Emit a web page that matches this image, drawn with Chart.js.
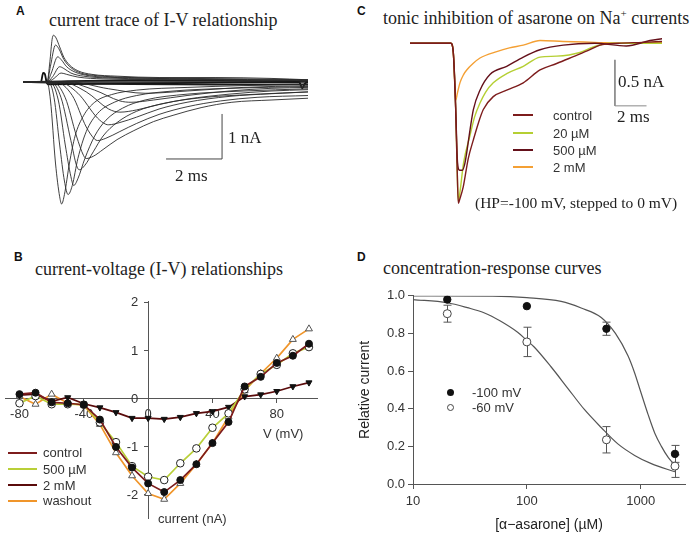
<!DOCTYPE html>
<html>
<head>
<meta charset="utf-8">
<script src="https://cdn.jsdelivr.net/npm/chart.js@4.4.1/dist/chart.umd.min.js"></script>
<style>
  body { margin: 0; background: #fff; }
  #page { position: relative; width: 693px; height: 539px; overflow: hidden;
          font-family: 'Liberation Sans', Arial, sans-serif; color: #333; }
  canvas { position: absolute; }
  .t { position: absolute; white-space: nowrap; line-height: 1; }
  .serif { font-family: 'Liberation Serif', 'Times New Roman', serif; color: #222; }
  .letter { font-weight: bold; font-size: 12px; color: #111; }
  .leg { font-size: 13px; }
  .sw { position: absolute; height: 0; border-top: 2px solid; }
  .dot { position: absolute; width: 7px; height: 7px; border-radius: 50%; box-sizing: border-box; }
</style>
</head>
<body>
<div id="page">
  <canvas id="chartA" width="285" height="180" style="left:23px;top:30px"></canvas>
  <canvas id="chartB" width="330" height="245" style="left:0px;top:285px"></canvas>
  <canvas id="chartC" width="252" height="175" style="left:410px;top:35px"></canvas>
  <canvas id="chartD" width="343" height="254" style="left:350px;top:285px"></canvas>

  <div class="t letter" style="left:16px;top:5px">A</div>
  <div class="t serif" style="left:49px;top:10.5px;font-size:18px">current trace of I-V relationship</div>
  <div class="t serif" style="left:228px;top:128.5px;font-size:17px">1 nA</div>
  <div class="t serif" style="left:175px;top:166.5px;font-size:17px">2 ms</div>

  <div class="t letter" style="left:14px;top:251px">B</div>
  <div class="t serif" style="left:35px;top:260px;font-size:18px">current-voltage (I-V) relationships</div>
  <div class="t leg" style="left:263px;top:426.5px">V (mV)</div>
  <div class="t leg" style="left:158px;top:511.5px">current (nA)</div>
  <div class="sw" style="left:8px;top:451.7px;width:29px;border-color:#7d1c1c"></div>
  <div class="t leg" style="left:43px;top:446.3px">control</div>
  <div class="sw" style="left:8px;top:468.3px;width:29px;border-color:#b9cf38"></div>
  <div class="t leg" style="left:43px;top:462.9px">500 &micro;M</div>
  <div class="sw" style="left:8px;top:484px;width:29px;border-color:#5a0b0b"></div>
  <div class="t leg" style="left:43px;top:478.6px">2 mM</div>
  <div class="sw" style="left:8px;top:499.7px;width:29px;border-color:#f0952a"></div>
  <div class="t leg" style="left:43px;top:494.3px">washout</div>

  <div class="t letter" style="left:357px;top:5px">C</div>
  <div class="t serif" style="left:383px;top:7.6px;font-size:18px">tonic inhibition of asarone on Na<sup style="font-size:11px;vertical-align:7px">+</sup> currents</div>
  <div class="t serif" style="left:618px;top:73px;font-size:17px">0.5 nA</div>
  <div class="t serif" style="left:617px;top:108px;font-size:17px">2 ms</div>
  <div class="t serif" style="left:475px;top:195px;font-size:15.5px">(HP=-100 mV, stepped to 0 mV)</div>
  <div class="sw" style="left:513px;top:114px;width:20px;border-color:#7d1c1c"></div>
  <div class="t leg" style="left:553px;top:108.6px">control</div>
  <div class="sw" style="left:513px;top:132px;width:20px;border-color:#b5cf33"></div>
  <div class="t leg" style="left:553px;top:126.6px">20 &micro;M</div>
  <div class="sw" style="left:513px;top:149px;width:20px;border-color:#64101a"></div>
  <div class="t leg" style="left:553px;top:143.6px">500 &micro;M</div>
  <div class="sw" style="left:513px;top:166px;width:20px;border-color:#f4a034"></div>
  <div class="t leg" style="left:553px;top:160.6px">2 mM</div>

  <div class="t letter" style="left:357px;top:251px">D</div>
  <div class="t serif" style="left:383px;top:259px;font-size:18px">concentration-response curves</div>
  <div class="dot" style="left:446.5px;top:388.5px;background:#111"></div>
  <div class="t leg" style="left:472px;top:385.6px">-100 mV</div>
  <div class="dot" style="left:446.5px;top:403.5px;border:1px solid #444;background:#fff"></div>
  <div class="t leg" style="left:472px;top:400.6px">-60 mV</div>
</div>

<script>
'use strict';

// ---------- A: current traces of the I-V protocol  [time (ms), current (nA)]
const inwardTraces = [
  [[-0.86, 0], [0, 0], [0.12, -0.4], [0.3, -1.8], [0.45, -2.55], [0.52, -2.71], [0.62, -2.5], [0.8, -1.8], [1.0, -1.2], [1.3, -0.75], [1.7, -0.45], [2.3, -0.28], [3.2, -0.18], [5, -0.12], [7, -0.08], [9.32, -0.05]],
  [[-0.86, 0], [0.05, 0], [0.25, -0.35], [0.45, -1.4], [0.62, -2.2], [0.75, -2.5], [0.9, -2.3], [1.1, -1.7], [1.4, -1.1], [1.8, -0.7], [2.4, -0.45], [3.2, -0.3], [4.5, -0.2], [6.5, -0.14], [9.32, -0.1]],
  [[-0.86, 0], [0.1, 0], [0.4, -0.4], [0.65, -1.4], [0.85, -2.1], [0.95, -2.3], [1.1, -2.15], [1.35, -1.7], [1.7, -1.2], [2.1, -0.85], [2.7, -0.58], [3.5, -0.4], [5, -0.27], [7, -0.2], [9.32, -0.15]],
  [[-0.86, 0], [0.15, 0], [0.5, -0.35], [0.85, -1.3], [1.05, -1.85], [1.15, -1.95], [1.35, -1.85], [1.65, -1.55], [2.0, -1.2], [2.5, -0.9], [3.2, -0.65], [4.2, -0.47], [5.5, -0.35], [7.5, -0.27], [9.32, -0.22]],
  [[-0.86, 0], [0.2, 0], [0.65, -0.35], [1.05, -1.2], [1.3, -1.63], [1.4, -1.7], [1.65, -1.65], [2.0, -1.5], [2.5, -1.28], [3.1, -1.08], [3.8, -0.88], [4.5, -0.74], [5.5, -0.57], [6.6, -0.45], [8, -0.4], [9.32, -0.36]],
  [[-0.86, 0], [0.3, 0], [0.9, -0.3], [1.4, -1.0], [1.7, -1.27], [1.8, -1.3], [2.1, -1.25], [2.6, -1.1], [3.2, -0.92], [4, -0.72], [5, -0.55], [6.2, -0.42], [7.5, -0.34], [9.32, -0.3]],
  [[-0.86, 0], [0.4, 0], [1.1, -0.25], [1.8, -0.8], [2.1, -0.94], [2.2, -0.95], [2.6, -0.9], [3.2, -0.78], [4, -0.6], [5, -0.45], [6.5, -0.32], [8, -0.26], [9.32, -0.22]],
  [[-0.86, 0], [0.5, 0], [1.4, -0.22], [2.2, -0.6], [2.6, -0.67], [3.2, -0.62], [4, -0.5], [5, -0.38], [6.5, -0.27], [8, -0.2], [9.32, -0.17]],
  [[-0.86, 0], [0.6, 0], [1.7, -0.18], [2.6, -0.42], [3.0, -0.45], [3.8, -0.4], [5, -0.3], [6.5, -0.2], [8, -0.14], [9.32, -0.12]],
  [[-0.86, 0], [0.8, 0], [2.2, -0.15], [3.5, -0.25], [5, -0.2], [7, -0.12], [9.32, -0.08]]
];
const outwardTraces = [
  [[-0.86, 0], [0, 0], [0.1, 0.45], [0.18, 0.95], [0.23, 1.04], [0.32, 0.98], [0.45, 0.78], [0.6, 0.55], [0.8, 0.38], [1.1, 0.25], [1.6, 0.17], [2.5, 0.13], [4, 0.1], [6, 0.1], [8, 0.08], [9.32, 0.05]],
  [[-0.86, 0], [0, 0], [0.12, 0.35], [0.3, 0.82], [0.42, 0.74], [0.6, 0.5], [0.85, 0.32], [1.2, 0.2], [1.8, 0.14], [3, 0.1], [5, 0.08], [7, 0.07], [9.32, 0.05]],
  [[-0.86, 0], [0, 0], [0.15, 0.2], [0.38, 0.56], [0.5, 0.5], [0.7, 0.34], [1.0, 0.22], [1.5, 0.14], [2.5, 0.1], [5, 0.07], [9.32, 0.04]],
  [[-0.86, 0], [0, 0], [0.2, 0.12], [0.45, 0.34], [0.6, 0.3], [0.85, 0.2], [1.3, 0.13], [2.2, 0.09], [5, 0.06], [9.32, 0.04]],
  [[-0.86, 0], [0, 0], [0.25, 0.08], [0.5, 0.2], [0.7, 0.17], [1.1, 0.11], [2, 0.07], [5, 0.05], [9.32, 0.03]]
];
const flatTraces = [
  [[-0.86, 0], [0.5, 0.02], [3, 0.04], [6, 0.03], [9.32, 0.02]],
  [[-0.86, 0], [0.8, -0.03], [3, -0.05], [6, -0.06], [9.32, -0.05]],
  [[-0.86, 0], [9.32, 0]]
];
const artifactTrace = [[-0.86, 0], [-0.22, 0], [-0.14, 0.2], [-0.08, 0.18], [-0.02, 0], [0.02, -0.05], [9.0, 0], [9.12, -0.14], [9.2, -0.04], [9.32, 0]];
const scaleBarA = [[4.25, -1.71], [6.25, -1.71], [6.25, -0.71]];   // 2 ms, 1 nA

// ---------- B: current-voltage relationships
const voltages  = [-80, -70, -60, -50, -40, -30, -20, -10, 0, 10, 20, 30, 40, 50, 60, 70, 80, 90, 100];
const ivControl = [0.1, 0.13, -0.07, -0.09, -0.12, -0.43, -1.0, -1.43, -1.76, -1.94, -1.69, -1.36, -0.92, -0.48, 0.26, 0.46, 0.75, 0.9, 1.15];
const iv500uM   = [-0.09, 0.06, -0.11, -0.11, -0.12, -0.49, -0.9, -1.4, -1.62, -1.69, -1.34, -1.03, -0.6, -0.3, 0.2, 0.52, 0.71, 0.95, 1.08];
const iv2mM     = [0.08, 0.1, -0.05, 0.03, -0.1, -0.18, -0.28, -0.4, -0.4, -0.42, -0.38, -0.3, -0.26, -0.17, 0.05, 0.09, 0.16, 0.26, 0.34];
const ivWashout = [0.05, -0.11, 0.1, -0.09, -0.13, -0.53, -1.12, -1.6, -1.97, -2.09, -1.76, -1.36, -0.92, -0.37, 0.17, 0.53, 0.85, 1.24, 1.46];
const vTicks = [-80, -40, 0, 40, 80];
const iTicks = [-2, -1, 0, 1, 2];

// ---------- C: tonic inhibition traces  [time (ms), current (nA)]
const tonicControl = [[-2.7, 0], [-0.1, 0], [0.05, -0.1], [0.2, -0.7], [0.3, -1.4], [0.37, -1.74], [0.45, -1.7], [0.68, -1.56], [1.0, -1.25], [1.32, -1.05], [1.65, -0.86], [1.95, -0.72], [2.58, -0.58], [3.43, -0.51], [4.48, -0.43], [5.54, -0.29], [6.59, -0.22], [7.65, -0.145], [8.7, -0.07], [9.34, -0.02], [10.5, 0], [12, 0.01], [13.3, 0.02]];
const tonic20uM    = [[-2.7, 0], [-0.1, 0], [0.05, -0.1], [0.2, -0.7], [0.3, -1.4], [0.37, -1.72], [0.47, -1.62], [0.7, -1.3], [1.11, -1.0], [1.4, -0.8], [1.74, -0.65], [2.1, -0.53], [2.58, -0.43], [3.43, -0.33], [4.48, -0.25], [5.54, -0.15], [6.59, -0.14], [8.07, -0.1], [8.91, -0.04], [10, 0], [13.3, 0]];
const tonic500uM   = [[-2.7, 0], [-0.1, 0], [0.05, -0.1], [0.2, -0.7], [0.32, -1.3], [0.45, -1.38], [0.62, -1.38], [0.79, -1.3], [1.11, -0.94], [1.32, -0.72], [1.74, -0.51], [2.37, -0.34], [3.43, -0.25], [4.48, -0.15], [5.54, -0.07], [7.01, -0.02], [9, 0], [11, -0.03], [12.5, 0.03], [13.3, 0.05]];
const tonic2mM     = [[-2.7, 0], [-0.1, 0], [0.05, -0.1], [0.12, -0.35], [0.2, -0.62], [0.3, -0.55], [0.47, -0.43], [0.7, -0.34], [0.9, -0.29], [1.3, -0.22], [1.74, -0.16], [2.8, -0.09], [3.6, -0.05], [4.48, -0.02], [5.54, 0.03], [7, 0.02], [9, 0.01], [11, 0], [13.3, 0.01]];
const scaleBarC = [[10.28, -0.18], [10.28, -0.68], [12.28, -0.68]];   // 0.5 nA, 2 ms

// ---------- D: concentration-response
const concentrations = [20, 100, 500, 2000];
const rel100 = [0.98, 0.945, 0.825, 0.16];
const err100 = [0, 0, 0.035, 0.045];
const rel60  = [0.905, 0.755, 0.235, 0.095];
const err60  = [0.045, 0.078, 0.07, 0.06];
const fit100 = [[10, 1.0], [50, 0.998], [100, 0.99], [200, 0.97], [300, 0.935], [450, 0.885], [600, 0.8], [775, 0.68], [885, 0.59], [1000, 0.49], [1160, 0.37], [1330, 0.27], [1520, 0.2], [1750, 0.14], [2000, 0.1]];
const fit60  = [[10, 0.98], [20, 0.963], [30, 0.937], [42, 0.91], [58, 0.867], [83, 0.806], [100, 0.763], [116, 0.728], [163, 0.623], [228, 0.51], [320, 0.396], [450, 0.3], [630, 0.213], [885, 0.152], [1240, 0.108], [2000, 0.065]];
const concTicks = [10, 100, 1000];
const relTicks = [0, 0.2, 0.4, 0.6, 0.8, 1.0];

Chart.defaults.font.family = "'Liberation Sans', Arial, sans-serif";
Chart.defaults.color = '#333';

function traceSet(points, color, width) {
  return {
    data: points, borderColor: color, borderWidth: width, pointRadius: 0,
    showLine: true, fill: false, cubicInterpolationMode: 'monotone'
  };
}

function traceOptions(xMin, xMax, yMin, yMax) {
  return {
    responsive: false,
    animation: false,
    layout: { padding: 0 },
    plugins: { legend: { display: false }, tooltip: { enabled: false } },
    scales: {
      x: { type: 'linear', display: false, min: xMin, max: xMax },
      y: { type: 'linear', display: false, min: yMin, max: yMax }
    }
  };
}

// panel A
let setsA = [];
inwardTraces.forEach(tr => setsA.push(traceSet(tr, '#2a2a2a', 0.9)));
outwardTraces.forEach(tr => setsA.push(traceSet(tr, '#2a2a2a', 0.9)));
flatTraces.forEach(tr => setsA.push(traceSet(tr, '#1a1a1a', 1.4)));
setsA.push(traceSet(artifactTrace, '#111', 1.8));
let barA = traceSet(scaleBarA, '#444', 1);
barA.cubicInterpolationMode = 'default';
barA.tension = 0;
setsA.push(barA);
new Chart(document.getElementById('chartA'), {
  type: 'scatter',
  data: { datasets: setsA },
  options: traceOptions(-0.86, 9.32, -2.844, 1.156)
});

// panel B
function ivSet(label, values, color, style) {
  return Object.assign({
    label: label,
    data: voltages.map((v, i) => ({ x: v, y: values[i] })),
    borderColor: color, borderWidth: 1.7, showLine: true, tension: 0,
    pointBorderWidth: 1
  }, style);
}

function centerAxis(isX) {
  return {
    type: 'linear',
    grid: { drawOnChartArea: false, drawTicks: true, tickLength: 4, color: '#555' },
    border: { display: true, color: '#555', width: 1 },
    ticks: { color: '#333', font: { size: 13 }, padding: 4 },
    afterFit: s => {
      if (isX) s.height = 0; else s.width = 0;
      s.paddingLeft = s.paddingRight = s.paddingTop = s.paddingBottom = 0;
    }
  };
}

let xB = centerAxis(true);
xB.min = -89; xB.max = 105; xB.position = { y: 0 };
xB.afterBuildTicks = s => { s.ticks = vTicks.map(v => ({ value: v })); };
let yB = centerAxis(false);
yB.min = -2.48; yB.max = 2.04; yB.position = { x: 0 };
yB.afterBuildTicks = s => { s.ticks = iTicks.map(v => ({ value: v })); };
// labels of a centred y axis sit on the line itself; pad them off it
yB.ticks.callback = v => v + '\u2007\u2009';

new Chart(document.getElementById('chartB'), {
  type: 'scatter',
  data: {
    datasets: [
      ivSet('control', ivControl, '#7d1c1c', { pointStyle: 'circle', pointRadius: 3.5, pointBackgroundColor: '#111', pointBorderColor: '#111' }),
      ivSet('500 µM', iv500uM, '#b9cf38', { pointStyle: 'circle', pointRadius: 3.8, pointBackgroundColor: '#fff', pointBorderColor: '#222' }),
      ivSet('2 mM', iv2mM, '#5a0b0b', { pointStyle: 'triangle', pointRotation: 180, pointRadius: 3.5, pointBackgroundColor: '#111', pointBorderColor: '#111' }),
      ivSet('washout', ivWashout, '#f0952a', { pointStyle: 'triangle', pointRadius: 4, pointBackgroundColor: '#fff', pointBorderColor: '#555' })
    ]
  },
  options: {
    responsive: false,
    animation: false,
    layout: { padding: { left: 0, top: 16, right: 13, bottom: 12 } },
    plugins: { legend: { display: false }, tooltip: { enabled: false } },
    scales: { x: xB, y: yB }
  }
});

// panel C
let barC = traceSet(scaleBarC, '#8a8a8a', 1);
barC.cubicInterpolationMode = 'default';
barC.tension = 0;
new Chart(document.getElementById('chartC'), {
  type: 'scatter',
  data: {
    datasets: [
      traceSet(tonicControl, '#7d1c1c', 1.4),
      traceSet(tonic500uM, '#64101a', 1.4),
      traceSet(tonic20uM, '#b5cf33', 1.4),
      traceSet(tonic2mM, '#f4a034', 1.4),
      barC
    ]
  },
  options: traceOptions(-2.69, 13.26, -1.812, 0.09)
});

// panel D
const errorBars = {
  id: 'errorBars',
  beforeDatasetsDraw(chart) {
    const ctx = chart.ctx;
    const x = chart.scales.x, y = chart.scales.y;
    ctx.save();
    ctx.strokeStyle = '#555';
    ctx.lineWidth = 1;
    chart.data.datasets.forEach(ds => {
      if (!ds.errors) return;
      ds.data.forEach((p, j) => {
        const e = ds.errors[j];
        if (!e) return;
        const px = Math.round(x.getPixelForValue(p.x)) + 0.5;
        const top = y.getPixelForValue(p.y + e);
        const bot = y.getPixelForValue(p.y - e);
        ctx.beginPath();
        ctx.moveTo(px, top); ctx.lineTo(px, bot);
        ctx.moveTo(px - 4, top); ctx.lineTo(px + 4, top);
        ctx.moveTo(px - 4, bot); ctx.lineTo(px + 4, bot);
        ctx.stroke();
      });
    });
    ctx.restore();
  }
};

function axisD() {
  return {
    grid: { drawOnChartArea: false, drawTicks: true, tickLength: 5, color: '#555' },
    border: { display: true, color: '#555', width: 1 },
    ticks: { color: '#333', font: { size: 13 }, padding: 3 }
  };
}
let xD = axisD();
xD.type = 'logarithmic';
xD.min = 10; xD.max = 2450;
xD.afterBuildTicks = s => { s.ticks = concTicks.map(v => ({ value: v })); };
xD.ticks.callback = v => String(v);
xD.ticks.padding = 5;
xD.title = { display: true, text: '[\u03b1\u2212asarone] (\u00b5M)', font: { size: 14 }, color: '#222', padding: { top: 11, bottom: 0 } };
xD.afterFit = s => { s.height = 50; };
let yD = axisD();
yD.type = 'linear';
yD.min = 0; yD.max = 1.0;
yD.afterBuildTicks = s => { s.ticks = relTicks.map(v => ({ value: v })); };
yD.ticks.callback = v => Number(v).toFixed(1);
yD.title = { display: true, text: 'Relative current', font: { size: 14 }, color: '#222', padding: { top: 7, bottom: 0 } };
yD.afterFit = s => { s.width = 63; };

new Chart(document.getElementById('chartD'), {
  type: 'scatter',
  data: {
    datasets: [
      { data: concentrations.map((c, i) => ({ x: c, y: rel60[i] })), errors: err60,
        pointRadius: 4, pointBackgroundColor: '#fff', pointBorderColor: '#444', pointBorderWidth: 1 },
      { data: concentrations.map((c, i) => ({ x: c, y: rel100[i] })), errors: err100,
        pointRadius: 3.7, pointBackgroundColor: '#111', pointBorderColor: '#111' },
      { data: fit100.map(p => ({ x: p[0], y: p[1] })), showLine: true, pointRadius: 0,
        borderColor: '#555', borderWidth: 1.2, cubicInterpolationMode: 'monotone' },
      { data: fit60.map(p => ({ x: p[0], y: p[1] })), showLine: true, pointRadius: 0,
        borderColor: '#555', borderWidth: 1.2, cubicInterpolationMode: 'monotone' }
    ]
  },
  options: {
    responsive: false,
    animation: false,
    layout: { padding: { left: 0, top: 8, right: 8, bottom: 5 } },
    plugins: { legend: { display: false }, tooltip: { enabled: false } },
    scales: { x: xD, y: yD }
  },
  plugins: [errorBars]
});
</script>
</body>
</html>
